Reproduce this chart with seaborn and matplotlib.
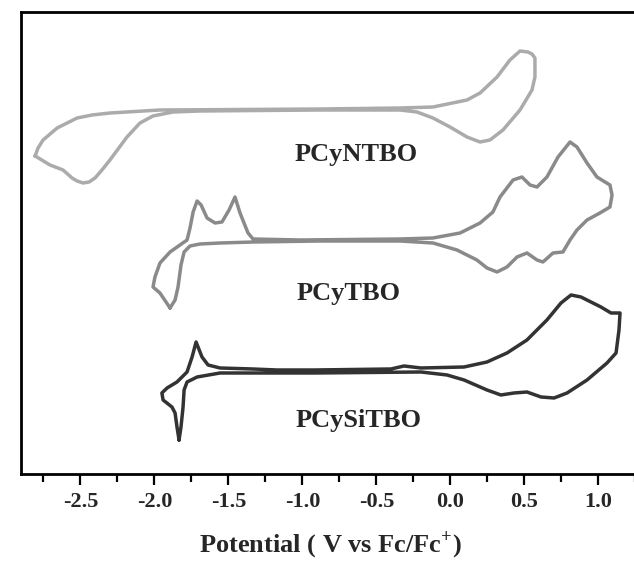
import matplotlib
matplotlib.use("Agg")
import matplotlib.pyplot as plt
from matplotlib.ticker import MultipleLocator, FormatStrFormatter
import seaborn as sns

# cyclic voltammograms, potential in V vs Fc/Fc+, current in arbitrary (offset) units
ntbo_v = [-2.806, -2.786, -2.752, -2.657, -2.522, -2.421, -2.300, -1.962, -0.880, -0.340,
          -0.117, 0.113, 0.201, 0.316, 0.403, 0.471, 0.525, 0.552, 0.572, 0.572,
          0.552, 0.471, 0.356, 0.268, 0.201, 0.113, -0.002, -0.117, -0.225, -0.340,
          -0.880, -1.692, -1.874, -2.010, -2.097, -2.185, -2.300, -2.354, -2.401, -2.441,
          -2.482, -2.522, -2.556, -2.617, -2.705, -2.806]
ntbo_i = [318, 326, 334, 346, 356, 359, 361, 364, 365, 366,
          367, 374, 381, 397, 414, 423, 422, 420, 416, 397,
          384, 364, 344, 334, 332, 337, 347, 356, 362, 364,
          364, 363, 362, 358, 351, 337, 314, 304, 296, 292,
          291, 293, 296, 304, 309, 318]

tbo_v = [-1.894, -1.860, -1.840, -1.820, -1.799, -1.759, -1.692, -1.556, -1.333, -0.880,
         -0.340, -0.117, 0.045, 0.180, 0.248, 0.316, 0.383, 0.451, 0.518, 0.586,
         0.626, 0.694, 0.761, 0.809, 0.856, 0.924, 1.011, 1.079, 1.093, 1.079,
         0.991, 0.924, 0.856, 0.809, 0.728, 0.653, 0.586, 0.539, 0.484, 0.424,
         0.336, 0.288, 0.201, 0.066, -0.117, -0.340, -1.016, -1.333, -1.367, -1.421,
         -1.455, -1.495, -1.543, -1.590, -1.644, -1.684, -1.711, -1.738, -1.759, -1.779,
         -1.827, -1.894, -1.962, -1.996, -2.009, -1.962, -1.894]
tbo_i = [166, 174, 187, 209, 222, 228, 230, 231, 232, 233,
         233, 231, 224, 214, 206, 202, 207, 217, 221, 214,
         212, 221, 222, 234, 244, 254, 261, 267, 279, 289,
         297, 311, 327, 332, 317, 297, 287, 289, 297, 294,
         277, 262, 251, 241, 236, 235, 234, 235, 241, 261,
         277, 264, 252, 251, 256, 269, 273, 262, 246, 234,
         229, 222, 211, 197, 187, 181, 166]

sitbo_v = [-1.833, -1.820, -1.806, -1.799, -1.779, -1.711, -1.556, -1.171, -0.921, -0.198,
           -0.022, 0.093, 0.248, 0.342, 0.430, 0.518, 0.613, 0.701, 0.789, 0.924,
           1.059, 1.120, 1.140, 1.147, 1.086, 1.018, 0.883, 0.816, 0.748, 0.653,
           0.518, 0.383, 0.248, 0.093, -0.198, -0.313, -0.401, -0.921, -1.171, -1.333,
           -1.556, -1.637, -1.678, -1.718, -1.745, -1.779, -1.847, -1.914, -1.949, -1.941,
           -1.881, -1.860, -1.847, -1.833]
sitbo_i = [34, 47, 67, 84, 92, 97, 101, 101, 101, 102,
           99, 94, 84, 79, 81, 82, 77, 76, 81, 94,
           111, 121, 144, 161, 161, 167, 177, 179, 171, 154,
           134, 121, 112, 107, 106, 108, 105, 104, 104, 105,
           106, 109, 117, 132, 117, 102, 92, 86, 81, 74,
           67, 61, 47, 34]

names = ["PCyNTBO", "PCyTBO", "PCySiTBO"]
colors = ["#ababab", "#8a8a8a", "#333333"]
label_pos = [(-1.05, 313), (-1.04, 174), (-1.045, 47)]

sns.set_style("ticks")
plt.rcParams["font.family"] = ["Liberation Serif", "DejaVu Serif"]
plt.rcParams["font.weight"] = "bold"
plt.rcParams["axes.unicode_minus"] = False
plt.rcParams["mathtext.fontset"] = "custom"
plt.rcParams["mathtext.rm"] = "Liberation Serif:bold"
plt.rcParams["mathtext.bf"] = "Liberation Serif:bold"

fig = plt.figure(figsize=(6.34, 5.61), dpi=100)
ax = fig.add_axes([0.0327, 0.1551, 0.9763, 0.8235])

curves = [(ntbo_v, ntbo_i), (tbo_v, tbo_i), (sitbo_v, sitbo_i)]
for (v, i), c in zip(curves, colors):
    sns.lineplot(x=v, y=i, sort=False, estimator=None, color=c, lw=2.5,
                 solid_joinstyle="round", ax=ax)

for name, (x, y) in zip(names, label_pos):
    ax.text(x, y, name, fontsize=19, fontweight="bold", ha="left", va="baseline")

ax.set_xlim(-2.903, 1.28)
ax.set_ylim(0, 462)
ax.set_yticks([])
ax.xaxis.set_major_locator(MultipleLocator(0.5))
ax.xaxis.set_minor_locator(MultipleLocator(0.25))
ax.xaxis.set_major_formatter(FormatStrFormatter("%.1f"))
ax.tick_params(axis="x", which="major", direction="out", length=8, width=1.6,
               labelsize=16, pad=5, color="black")
ax.tick_params(axis="x", which="minor", direction="out", length=5.5, width=1.6, color="black")
for lab in ax.get_xticklabels():
    lab.set_fontweight("bold")
for s in ax.spines.values():
    s.set_linewidth(2)
    s.set_color("black")

ax.set_xlabel(r"Potential ( V vs Fc/Fc$^{+}$)", fontsize=19, fontweight="bold", labelpad=12)

fig.savefig("out.png", dpi=100)
